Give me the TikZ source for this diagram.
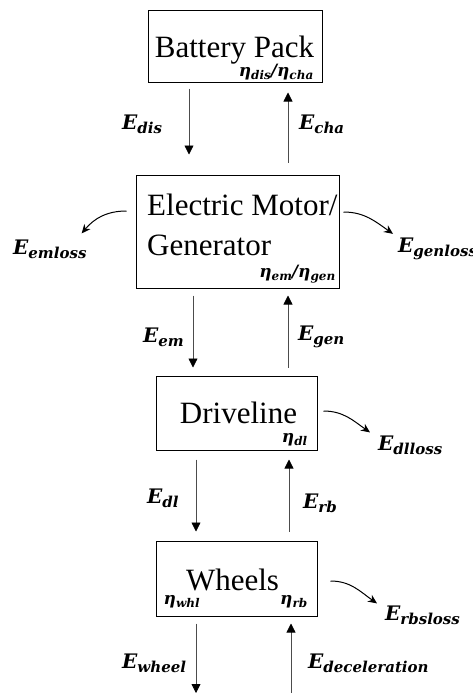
\documentclass[tikz,border=0pt]{standalone}
\usepackage{fontspec}
\setmainfont{Liberation Serif}
\newfontfamily\lblfont{DejaVu Serif}
\usetikzlibrary{arrows.meta}
\newcommand{\lowsubE}[1]{\raisebox{-4pt}{\fontsize{15}{15}\selectfont #1}}
\newcommand{\lowsubH}[1]{\raisebox{-3pt}{\fontsize{12}{12}\selectfont #1}}
\newcommand{\Elab}[1]{{\lblfont\bfseries\itshape\fontsize{20}{20}\selectfont E\lowsubE{#1}}}
\newcommand{\Hlab}[1]{{\lblfont\bfseries\itshape\fontsize{17}{17}\selectfont #1}}
\tikzset{
  box/.style={draw=black, line width=1pt, inner sep=0pt},
  main/.style={font=\fontsize{31}{31}\selectfont, inner sep=0pt},
  lbl/.style={inner sep=0pt, anchor=west},
  flow/.style={draw=black!70, line width=0.8pt, -{Triangle[length=9pt,width=9pt,black]}},
  loss/.style={draw=black, line width=1pt, -{Stealth[length=9pt,width=8pt]}},
}
\begin{document}
\begin{tikzpicture}[x=1pt,y=-1pt]
\useasboundingbox (0,0) rectangle (472,693);
% boxes
\node[box, minimum width=174pt, minimum height=71pt] (bat) at (235,46.5) {};
\node[box, minimum width=203pt, minimum height=113pt] (mot) at (237.5,231.5) {};
\node[box, minimum width=161pt, minimum height=74pt] (drv) at (236.5,413) {};
\node[box, minimum width=161pt, minimum height=75pt] (whl) at (236.5,578.5) {};
% box texts
\node[main, anchor=base] (battxt) at (234.5,57) {Battery Pack};
\node[main, anchor=base west] (mottxta) at (147,215) {Electric Motor/};
\node[main, anchor=base west] (mottxtb) at (147,255) {Generator};
\node[main, anchor=base] (drvtxt) at (238.5,423) {Driveline};
\node[main, anchor=base] (whltxt) at (232.5,590) {Wheels};
% efficiency labels
\node[inner sep=0pt, anchor=south east] (bateta) at ([xshift=-9pt,yshift=2pt]bat.south east)
  {\Hlab{η\lowsubH{dis}/η\lowsubH{cha}}};
\node[inner sep=0pt, anchor=south east] (moteta) at ([xshift=-4pt,yshift=5pt]mot.south east)
  {\Hlab{η\lowsubH{em}/η\lowsubH{gen}}};
\node[inner sep=0pt, anchor=south east] (drveta) at ([xshift=-10pt,yshift=4pt]drv.south east)
  {\Hlab{η\lowsubH{dl}}};
\node[inner sep=0pt, anchor=south east] (whletab) at ([xshift=-10pt,yshift=8pt]whl.south east)
  {\Hlab{η\lowsubH{rb}}};
\node[inner sep=0pt, anchor=south west] (whletaa) at ([xshift=8pt,yshift=8pt]whl.south west)
  {\Hlab{η\lowsubH{whl}}};
% energy labels
\node[lbl] (edis) at (122,124) {\Elab{dis}};
\node[lbl] (echa) at (299,124) {\Elab{cha}};
\node[lbl] (eemloss) at (13,249) {\Elab{emloss}};
\node[lbl] (egenloss) at (398,249) {\Elab{genloss}};
\node[lbl] (eem) at (143,337) {\Elab{em}};
\node[lbl] (egen) at (298,337) {\Elab{gen}};
\node[lbl] (edl) at (147,498) {\Elab{dl}};
\node[lbl] (erb) at (303,503) {\Elab{rb}};
\node[lbl] (edlloss) at (378,445) {\Elab{dlloss}};
\node[lbl] (ewheel) at (122,663) {\Elab{wheel}};
\node[lbl] (edec) at (308,663) {\Elab{deceleration}};
\node[lbl] (erbsloss) at (385,615) {\Elab{rbsloss}};
% free ends at the bottom
\coordinate (wout) at (196,693);
\coordinate (win) at (291,693);
% vertical flows
\draw[flow] ([xshift=-46pt,yshift=-6pt]bat.south) -- ([xshift=-48.5pt,yshift=20pt]mot.north);
\draw[flow] ([xshift=50.5pt,yshift=12pt]mot.north) -- ([xshift=53pt,yshift=-10pt]bat.south);
\draw[flow] ([xshift=-44.5pt,yshift=-7pt]mot.south) -- ([xshift=-43.5pt,yshift=8pt]drv.north);
\draw[flow] ([xshift=51.5pt,yshift=8pt]drv.north) -- ([xshift=50.5pt,yshift=-7pt]mot.south);
\draw[flow] ([xshift=-40.5pt,yshift=-9pt]drv.south) -- ([xshift=-40.5pt,yshift=9pt]whl.north);
\draw[flow] ([xshift=52.5pt,yshift=9pt]whl.north) -- ([xshift=52.5pt,yshift=-9pt]drv.south);
\draw[flow] ([xshift=-40.5pt,yshift=-7pt]whl.south) -- (wout);
\draw[flow] (win) -- ([xshift=54.5pt,yshift=-7pt]whl.south);
% losses
\draw[loss] ([xshift=-9pt,yshift=20.5pt]mot.west) to[out=180,in=50] ([xshift=-5pt,yshift=6pt]eemloss.north east);
\draw[loss] ([xshift=4pt,yshift=19.5pt]mot.east) to[out=0,in=145] ([xshift=-5pt,yshift=4pt]egenloss.north west);
\draw[loss] ([xshift=6pt,yshift=2pt]drv.east) to[out=0,in=145] ([xshift=-8pt,yshift=3pt]edlloss.north west);
\draw[loss] ([xshift=13pt,yshift=-2.5pt]whl.east) to[out=0,in=145] ([xshift=-8pt,yshift=2pt]erbsloss.north west);
\end{tikzpicture}
\end{document}
